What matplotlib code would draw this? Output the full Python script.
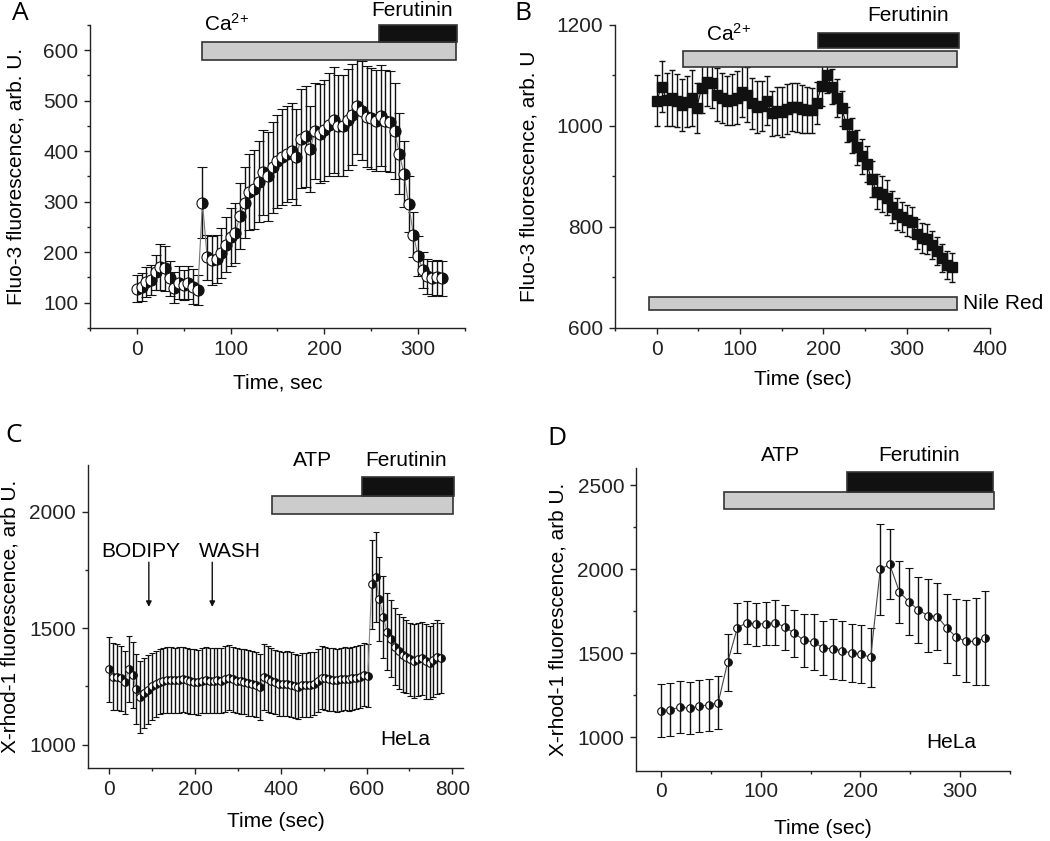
import matplotlib
matplotlib.use("Agg")
import matplotlib.pyplot as plt
from matplotlib.ticker import MultipleLocator
from matplotlib.patches import Rectangle

plt.rcParams['font.family'] = ['Liberation Sans', 'DejaVu Sans']
plt.rcParams['mathtext.fontset'] = 'custom'
plt.rcParams['mathtext.rm'] = 'Liberation Sans'
plt.rcParams['mathtext.default'] = 'regular'

FS = 15

# ---- Panel A: Fluo-3, Ca2+ then Ferutinin ----
a_time = [0, 5, 10, 15, 20, 25, 30, 35, 40, 45, 50, 55, 60, 65, 70, 75, 80, 85, 90, 95,
          100, 105, 110, 115, 120, 125, 130, 135, 140, 145, 150, 155, 160, 165, 170, 175,
          180, 185, 190, 195, 200, 205, 210, 215, 220, 225, 230, 235, 240, 245, 250, 255,
          260, 265, 270, 275, 280, 285, 290, 295, 300, 305, 310, 315, 320, 325]
a_val = [128, 131, 141, 145, 160, 171, 168, 148, 130, 140, 135, 140, 132, 125, 298, 190,
         184, 187, 198, 215, 230, 238, 272, 298, 320, 325, 340, 358, 350, 368, 380, 388,
         395, 400, 388, 425, 430, 405, 440, 435, 442, 452, 462, 450, 450, 462, 472, 490,
         480, 468, 465, 460, 470, 460, 458, 440, 395, 355, 295, 235, 192, 165, 152, 148,
         150, 148]
a_err = [27, 28, 30, 30, 35, 45, 45, 35, 30, 32, 30, 32, 35, 30, 70, 45, 48, 48, 50, 55,
         58, 60, 65, 70, 75, 78, 80, 85, 88, 90, 92, 95, 95, 95, 95, 98, 100, 85, 95, 98,
         100, 102, 105, 100, 100, 100, 100, 95, 98, 100, 100, 100, 100, 100, 100, 95, 80,
         65, 55, 45, 40, 35, 35, 35, 35, 35]

# ---- Panel B: Fluo-3 with Nile Red ----
b_time = [0, 6, 12, 18, 24, 30, 36, 42, 48, 54, 60, 66, 72, 78, 84, 90, 96, 102, 108, 114,
          120, 126, 132, 138, 144, 150, 156, 162, 168, 174, 180, 186, 192, 198, 204, 210,
          216, 222, 228, 234, 240, 246, 252, 258, 264, 270, 276, 282, 288, 294, 300, 306,
          312, 318, 324, 330, 336, 342, 348, 354]
b_val = [1050, 1078, 1052, 1055, 1050, 1042, 1048, 1055, 1036, 1075, 1087, 1085, 1062, 1055,
         1050, 1052, 1056, 1068, 1062, 1045, 1038, 1040, 1050, 1025, 1030, 1028, 1034, 1038,
         1037, 1034, 1032, 1031, 1045, 1080, 1100, 1078, 1055, 1035, 1003, 981, 958, 940,
         925, 895, 870, 865, 858, 840, 826, 820, 813, 810, 786, 778, 776, 765, 752, 738,
         725, 720]
b_err = [50, 50, 52, 55, 53, 52, 50, 55, 50, 50, 48, 50, 52, 50, 48, 50, 52, 50, 55, 50,
         52, 50, 48, 45, 48, 50, 50, 48, 48, 47, 45, 45, 42, 40, 35, 35, 38, 35, 35, 35,
         35, 35, 35, 35, 35, 35, 35, 32, 32, 30, 30, 30, 30, 30, 30, 28, 28, 28, 28, 28]

# ---- Panel C: X-rhod-1, HeLa, BODIPY ----
c_time = [0, 9, 18, 27, 36, 45, 54, 63, 72, 81, 90, 99, 108, 117, 126, 135, 144, 153, 162,
          171, 180, 189, 198, 207, 216, 225, 234, 243, 252, 261, 270, 279, 288, 297, 306,
          315, 324, 333, 342, 351, 360, 369, 378, 387, 396, 405, 414, 423, 432, 441, 450,
          459, 468, 477, 486, 495, 504, 513, 522, 531, 540, 549, 558, 567, 576, 585, 594,
          603, 612, 621, 630, 639, 648, 657, 666, 675, 684, 693, 702, 711, 720, 729, 738,
          747, 756, 765, 774]
c_val = [1323, 1292, 1290, 1285, 1268, 1325, 1300, 1240, 1205, 1222, 1235, 1250, 1262, 1270,
         1275, 1277, 1277, 1276, 1278, 1280, 1276, 1272, 1270, 1268, 1275, 1278, 1275, 1274,
         1276, 1275, 1282, 1288, 1280, 1275, 1272, 1270, 1265, 1262, 1258, 1248, 1290, 1282,
         1275, 1268, 1262, 1260, 1262, 1258, 1252, 1248, 1255, 1256, 1258, 1262, 1275, 1288,
         1284, 1280, 1278, 1276, 1280, 1282, 1280, 1285, 1288, 1292, 1300, 1296, 1688, 1720,
         1625, 1548, 1484, 1455, 1420, 1400, 1386, 1378, 1366, 1360, 1366, 1370, 1357, 1352,
         1364, 1375, 1373]
c_err = [138, 145, 142, 140, 135, 140, 142, 150, 155, 150, 148, 145, 142, 140, 140, 140, 140,
         140, 140, 140, 140, 140, 140, 140, 140, 140, 140, 140, 140, 140, 140, 140, 140, 140,
         140, 140, 140, 140, 140, 140, 140, 140, 140, 138, 138, 138, 138, 138, 138, 138, 138,
         138, 138, 135, 135, 135, 135, 135, 135, 135, 135, 135, 135, 135, 135, 135, 135, 135,
         190, 192, 180, 175, 165, 165, 165, 160, 160, 158, 158, 158, 158, 158, 160, 158, 158,
         158, 150]

# ---- Panel D: X-rhod-1, HeLa, ATP ----
d_time = [0, 9.6, 19.1, 28.7, 38.2, 47.8, 57.4, 66.9, 76.5, 86.0, 95.6, 105.2, 114.7, 124.3,
          133.8, 143.4, 153.0, 162.5, 172.1, 181.6, 191.2, 200.7, 210.3, 219.9, 229.4, 239.0,
          248.5, 258.1, 267.7, 277.2, 286.8, 296.3, 305.9, 315.5, 325.0]
d_val = [1158, 1164, 1178, 1172, 1184, 1192, 1204, 1445, 1648, 1682, 1672, 1676, 1682, 1654,
         1619, 1575, 1567, 1530, 1526, 1514, 1500, 1494, 1474, 1998, 2028, 1866, 1806, 1757,
         1723, 1717, 1648, 1595, 1570, 1570, 1590]
d_err = [160, 158, 155, 155, 155, 155, 158, 170, 148, 130, 128, 130, 132, 135, 140, 155, 165,
         163, 178, 175, 175, 175, 176, 270, 208, 185, 200, 195, 215, 200, 205, 225, 245, 260,
         278]

fig = plt.figure(figsize=(10.5, 8.41), dpi=100)
axA = fig.add_axes([0.0857, 0.6100, 0.3571, 0.3603])
axB = fig.add_axes([0.5857, 0.6100, 0.3571, 0.3603])
axC = fig.add_axes([0.0838, 0.0868, 0.3571, 0.3603])
axD = fig.add_axes([0.6057, 0.0836, 0.3562, 0.3596])


def style(ax, xlim, ylim, xmaj, xmin, ymaj, ymin):
    ax.set_xlim(*xlim)
    ax.set_ylim(*ylim)
    ax.xaxis.set_major_locator(MultipleLocator(xmaj))
    ax.xaxis.set_minor_locator(MultipleLocator(xmin))
    ax.yaxis.set_major_locator(MultipleLocator(ymaj))
    ax.yaxis.set_minor_locator(MultipleLocator(ymin))
    for s in ['top', 'right']:
        ax.spines[s].set_visible(False)
    for s in ['left', 'bottom']:
        ax.spines[s].set_linewidth(1.0)
        ax.spines[s].set_color('#222222')
    ax.tick_params(which='major', direction='out', length=4.5, width=1.0,
                   labelsize=FS, pad=4, colors='#222222')
    ax.tick_params(which='minor', direction='out', length=2.5, width=1.0, colors='#222222')


def bar(ax, x0, x1, y0, y1, color):
    ax.add_patch(Rectangle((x0, y0), x1 - x0, y1 - y0, facecolor=color,
                           edgecolor='#333333', linewidth=1.2, clip_on=False, zorder=5))


def half_circles(ax, t, v, e, ms, cap, lc):
    ax.errorbar(t, v, yerr=e, fmt='-', color=lc, linewidth=0.8, ecolor='#111111',
                elinewidth=1.0, capsize=cap, capthick=1.0, marker='o', ms=ms,
                mec='#111111', mew=0.8, mfc='#111111', markerfacecoloralt='white',
                fillstyle='right', zorder=3)


# Panel A
style(axA, (-50, 350), (50, 650), 100, 50, 100, 50)
half_circles(axA, a_time, a_val, a_err, 8, 3.5, '#777777')
bar(axA, 70, 340, 580, 616, '#cccccc')
bar(axA, 258, 341, 616, 650, '#111111')
axA.text(72, 653, 'Ca$^{2\!+}$', fontsize=FS, va='center', ha='left')
axA.text(250, 679, 'Ferutinin', fontsize=FS, va='center', ha='left')
axA.set_xlabel('Time, sec', fontsize=FS, va='center')
axA.set_ylabel('Fluo-3 fluorescence, arb. U.', fontsize=FS, va='center')
axA.xaxis.set_label_coords(0.5, -0.18)
axA.yaxis.set_label_coords(-0.197, 0.5)

# Panel B
style(axB, (-50, 400), (600, 1200), 100, 50, 200, 100)
axB.errorbar(b_time, b_val, yerr=b_err, fmt='s-', color='#111111', ms=6.5, linewidth=0.8,
             ecolor='#111111', elinewidth=1.0, capsize=2.5, capthick=1.0, zorder=3)
bar(axB, 32, 361, 1116, 1149, '#cccccc')
bar(axB, 194, 363, 1154, 1184, '#111111')
bar(axB, -9, 361, 635, 661, '#cccccc')
axB.text(59, 1183, 'Ca$^{2\!+}$', fontsize=FS, va='center', ha='left')
axB.text(253, 1218, 'Ferutinin', fontsize=FS, va='center', ha='left')
axB.text(368, 648, 'Nile Red', fontsize=FS, va='center', ha='left', clip_on=False)
axB.set_xlabel('Time (sec)', fontsize=FS, va='center')
axB.set_ylabel('Fluo-3 fluorescence, arb. U', fontsize=FS, va='center')
axB.xaxis.set_label_coords(0.5, -0.17)
axB.yaxis.set_label_coords(-0.228, 0.5)

# Panel C
style(axC, (-50, 825), (900, 2200), 200, 100, 500, 250)
half_circles(axC, c_time, c_val, c_err, 5.5, 2.5, '#888888')
bar(axC, 379, 802, 1990, 2068, '#cccccc')
bar(axC, 590, 804, 2068, 2150, '#111111')
axC.text(429, 2218, 'ATP', fontsize=FS, va='center', ha='left')
axC.text(598, 2218, 'Ferutinin', fontsize=FS, va='center', ha='left')
axC.text(-18, 1829, 'BODIPY', fontsize=FS, va='center', ha='left')
axC.text(208, 1829, 'WASH', fontsize=FS, va='center', ha='left')
axC.text(631, 1021, 'HeLa', fontsize=FS, va='center', ha='left')
for xa in [92, 240]:
    axC.annotate('', xy=(xa, 1591), xytext=(xa, 1783),
                 arrowprops=dict(arrowstyle='-|>', color='#111111', lw=1.0,
                                 mutation_scale=8, shrinkA=0, shrinkB=0))
axC.set_xlabel('Time (sec)', fontsize=FS, va='center')
axC.set_ylabel('X-rhod-1 fluorescence, arb U.', fontsize=FS, va='center')
axC.xaxis.set_label_coords(0.5, -0.178)
axC.yaxis.set_label_coords(-0.208, 0.5)

# Panel D
style(axD, (-25, 350), (800, 2600), 100, 50, 500, 250)
half_circles(axD, d_time, d_val, d_err, 5.5, 3.0, '#444444')
bar(axD, 63.5, 334, 2356, 2461, '#cccccc')
bar(axD, 187, 333, 2461, 2575, '#111111')
axD.text(100, 2677, 'ATP', fontsize=FS, va='center', ha='left')
axD.text(218, 2677, 'Ferutinin', fontsize=FS, va='center', ha='left')
axD.text(266, 969, 'HeLa', fontsize=FS, va='center', ha='left')
axD.set_xlabel('Time (sec)', fontsize=FS, va='center')
axD.set_ylabel('X-rhod-1 fluorescence, arb U.', fontsize=FS, va='center')
axD.xaxis.set_label_coords(0.5, -0.19)
axD.yaxis.set_label_coords(-0.209, 0.5)

# panel letters
for lbl, x, y in [('A', 12, 14), ('B', 514, 14), ('C', 5, 436), ('D', 547, 438)]:
    fig.text(x / 1050, 1 - y / 841, lbl, fontsize=19, va='center', ha='left',
             family=['Open Sans', 'DejaVu Sans'])

fig.savefig('out.png', dpi=100)
